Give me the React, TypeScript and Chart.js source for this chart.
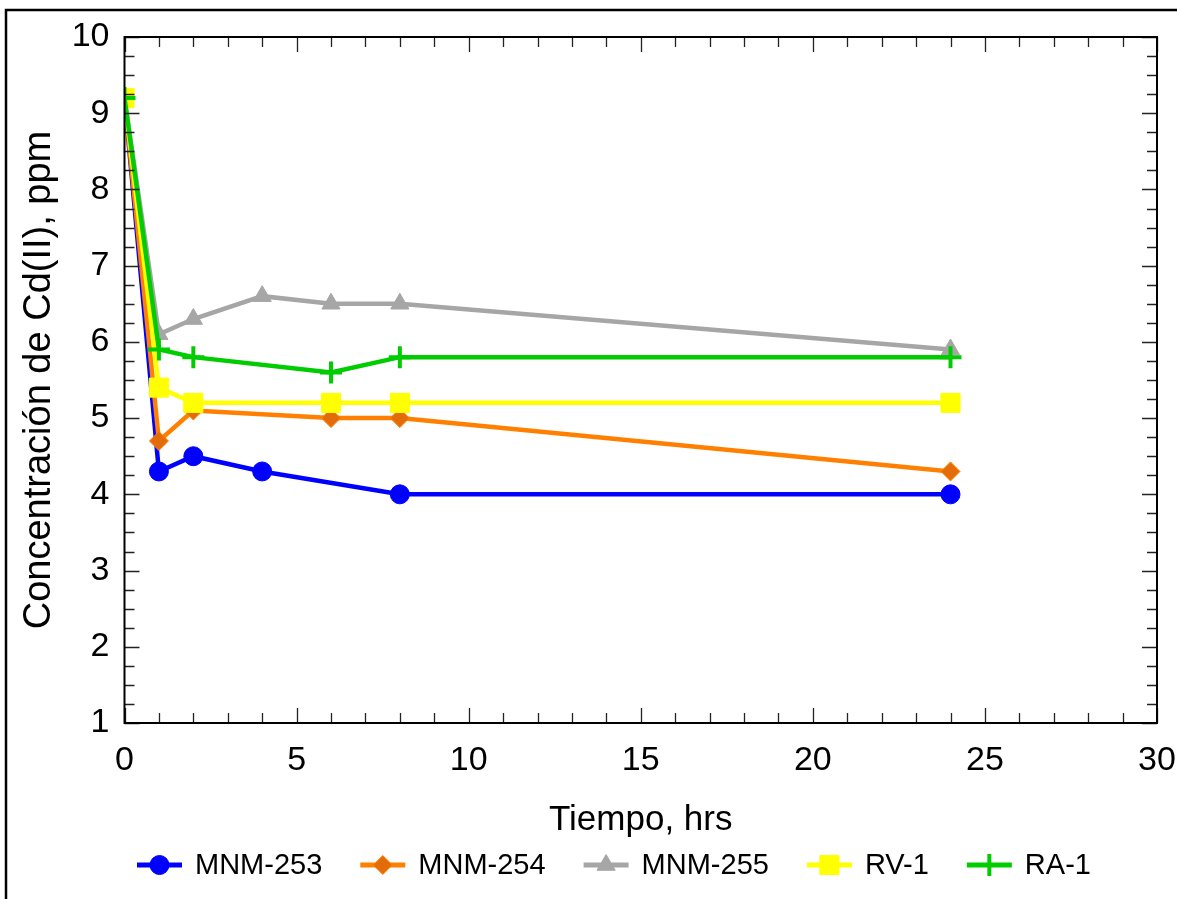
import React, { useEffect, useRef } from 'react';
import { Chart, registerables } from 'chart.js';

Chart.register(...registerables);

// ---- Data ----
const seriesNames = ['MNM-253', 'MNM-254', 'MNM-255', 'RV-1', 'RA-1'];

const t253 = [0, 1, 2, 4, 8, 24];
const c253 = [9.2, 4.3, 4.5, 4.3, 4.0, 4.0];

const t254 = [0, 1, 2, 6, 8, 24];
const c254 = [9.2, 4.7, 5.1, 5.0, 5.0, 4.3];

const t255 = [0, 1, 2, 4, 6, 8, 24];
const c255 = [9.2, 6.1, 6.3, 6.6, 6.5, 6.5, 5.9];

const tRV1 = [0, 1, 2, 6, 8, 24];
const cRV1 = [9.2, 5.4, 5.2, 5.2, 5.2, 5.2];

const tRA1 = [0, 1, 2, 6, 8, 24];
const cRA1 = [9.2, 5.9, 5.8, 5.6, 5.8, 5.8];

const xTitle = 'Tiempo, hrs';
const yTitle = 'Concentración de Cd(II), ppm';

const FONT = "'Liberation Sans', Arial, sans-serif";

type Style = {
  line: string;
  fill: string;
  stroke: string;
  shape: string;
  radius: number;
  bw: number;
};

const styles: Style[] = [
  { line: '#0000FF', fill: '#0000FF', stroke: '#0000FF', shape: 'circle', radius: 9.5, bw: 1 },
  { line: '#FF8000', fill: '#E36C0A', stroke: '#FF8000', shape: 'rectRot', radius: 9.5, bw: 1 },
  { line: '#A6A6A6', fill: '#A6A6A6', stroke: '#A6A6A6', shape: 'triangle', radius: 10.5, bw: 1 },
  { line: '#FFFF00', fill: '#FFFF00', stroke: '#FFFF00', shape: 'rect', radius: 13.5, bw: 1 },
  { line: '#00CC00', fill: '#00CC00', stroke: '#00CC00', shape: 'cross', radius: 11, bw: 4 },
];

function pts(t: number[], c: number[]) {
  return t.map((x, i) => ({ x, y: c[i] }));
}

function drawMarker(ctx: CanvasRenderingContext2D, s: Style, x: number, y: number) {
  const r = s.radius;
  ctx.save();
  ctx.fillStyle = s.fill;
  ctx.strokeStyle = s.stroke;
  ctx.lineWidth = s.bw;
  ctx.beginPath();
  if (s.shape === 'circle') {
    ctx.arc(x, y, r, 0, Math.PI * 2);
    ctx.fill();
    ctx.stroke();
  } else if (s.shape === 'rectRot') {
    ctx.moveTo(x - r, y);
    ctx.lineTo(x, y - r);
    ctx.lineTo(x + r, y);
    ctx.lineTo(x, y + r);
    ctx.closePath();
    ctx.fill();
    ctx.stroke();
  } else if (s.shape === 'triangle') {
    const h = r * Math.sqrt(3) / 2;
    ctx.moveTo(x, y - r);
    ctx.lineTo(x + h, y + r / 2);
    ctx.lineTo(x - h, y + r / 2);
    ctx.closePath();
    ctx.fill();
    ctx.stroke();
  } else if (s.shape === 'rect') {
    const a = Math.SQRT1_2 * r;
    ctx.rect(x - a, y - a, 2 * a, 2 * a);
    ctx.fill();
    ctx.stroke();
  } else if (s.shape === 'cross') {
    ctx.moveTo(x, y - r);
    ctx.lineTo(x, y + r);
    ctx.moveTo(x - r, y);
    ctx.lineTo(x + r, y);
    ctx.stroke();
  }
  ctx.restore();
}

const framePlugin = {
  id: 'framePlugin',
  beforeDraw(chart: any) {
    const ctx = chart.ctx as CanvasRenderingContext2D;
    ctx.save();
    ctx.strokeStyle = '#000';
    ctx.lineWidth = 2.5;
    ctx.strokeRect(6, 10, 1400, 1200);
    ctx.restore();
  },
  afterDatasetsDraw(chart: any) {
    const ctx = chart.ctx as CanvasRenderingContext2D;
    const { left, right, top, bottom } = chart.chartArea;
    const xs = chart.scales.x;
    const ys = chart.scales.y;
    ctx.save();
    ctx.strokeStyle = '#222';
    ctx.lineWidth = 1.3;
    ctx.beginPath();
    for (let v = xs.min; v <= xs.max + 1e-9; v += 1) {
      const px = Math.round(xs.getPixelForValue(v)) + 0.5;
      const len = Math.abs(v % 5) < 1e-9 ? 15 : 10;
      ctx.moveTo(px, bottom);
      ctx.lineTo(px, bottom - len);
      ctx.moveTo(px, top);
      ctx.lineTo(px, top + len);
    }
    for (let v = ys.min; v <= ys.max + 1e-9; v += 0.25) {
      const py = Math.round(ys.getPixelForValue(v)) + 0.5;
      const len = Math.abs(v - Math.round(v)) < 1e-9 ? 15 : 10;
      ctx.moveTo(left, py);
      ctx.lineTo(left + len, py);
      ctx.moveTo(right, py);
      ctx.lineTo(right - len, py);
    }
    ctx.stroke();
    ctx.strokeStyle = '#000';
    ctx.lineWidth = 2;
    ctx.strokeRect(left, top, right - left, bottom - top);
    ctx.restore();
  },
  afterDraw(chart: any) {
    const ctx = chart.ctx as CanvasRenderingContext2D;
    const datasets = chart.data.datasets;
    const y = 865;
    const lineLen = 45;
    const gap = 13;
    const spacing = 38;
    let x = 137;
    ctx.save();
    ctx.font = `29px ${FONT}`;
    ctx.textBaseline = 'middle';
    ctx.textAlign = 'left';
    datasets.forEach((ds: any, i: number) => {
      const s = styles[i];
      ctx.strokeStyle = s.line;
      ctx.lineWidth = 5;
      ctx.beginPath();
      ctx.moveTo(x, y);
      ctx.lineTo(x + lineLen, y);
      ctx.stroke();
      drawMarker(ctx, s, x + lineLen / 2, y);
      ctx.fillStyle = '#000';
      const tx = x + lineLen + gap;
      ctx.fillText(ds.label, tx, y + 1);
      x = tx + ctx.measureText(ds.label).width + spacing;
    });
    ctx.restore();
  },
};

export default function App() {
  const canvasRef = useRef<HTMLCanvasElement | null>(null);

  useEffect(() => {
    if (!canvasRef.current) return;
    const allT = [t253, t254, t255, tRV1, tRA1];
    const allC = [c253, c254, c255, cRV1, cRA1];
    const datasets = seriesNames.map((name, i) => {
      const s = styles[i];
      return {
        label: name,
        data: pts(allT[i], allC[i]),
        borderColor: s.line,
        backgroundColor: s.fill,
        borderWidth: 4.5,
        pointStyle: s.shape,
        pointRadius: s.radius,
        pointHoverRadius: s.radius,
        pointBackgroundColor: s.fill,
        pointBorderColor: s.stroke,
        pointBorderWidth: s.bw,
        tension: 0,
        clip: 0,
        order: seriesNames.length - i,
      };
    });

    const chart = new Chart(canvasRef.current, {
      type: 'line',
      data: { datasets },
      options: {
        animation: false,
        responsive: true,
        maintainAspectRatio: false,
        layout: { padding: { top: 37, right: 20, left: 0, bottom: 0 } },
        plugins: {
          legend: { display: false },
          tooltip: { enabled: false },
        },
        scales: {
          x: {
            type: 'linear',
            min: 0,
            max: 30,
            grid: { display: false, drawTicks: false },
            border: { display: false },
            ticks: {
              stepSize: 5,
              color: '#000',
              padding: 17,
              font: { family: FONT, size: 34 },
            },
            title: {
              display: true,
              text: xTitle,
              color: '#000',
              font: { family: FONT, size: 35 },
              padding: { top: 0, bottom: 58 },
            },
            afterFit: (scale: any) => {
              scale.height = 176;
              scale.paddingLeft = 0;
              scale.paddingRight = 0;
            },
          },
          y: {
            type: 'linear',
            min: 1,
            max: 10,
            grid: { display: false, drawTicks: false },
            border: { display: false },
            ticks: {
              stepSize: 1,
              color: '#000',
              padding: 15,
              font: { family: FONT, size: 34 },
            },
            title: {
              display: true,
              text: yTitle,
              color: '#000',
              font: { family: FONT, size: 38 },
              padding: { top: 17, bottom: 0 },
            },
            afterFit: (scale: any) => {
              scale.width = 124.5;
              scale.paddingTop = 0;
              scale.paddingBottom = 0;
            },
          },
        },
      },
      plugins: [framePlugin],
    } as any);

    return () => {
      chart.destroy();
    };
  }, []);

  return (
    <div
      style={{
        position: 'fixed',
        left: 0,
        top: 0,
        width: 1177,
        height: 899,
        background: '#fff',
      }}
    >
      <canvas ref={canvasRef} />
    </div>
  );
}
